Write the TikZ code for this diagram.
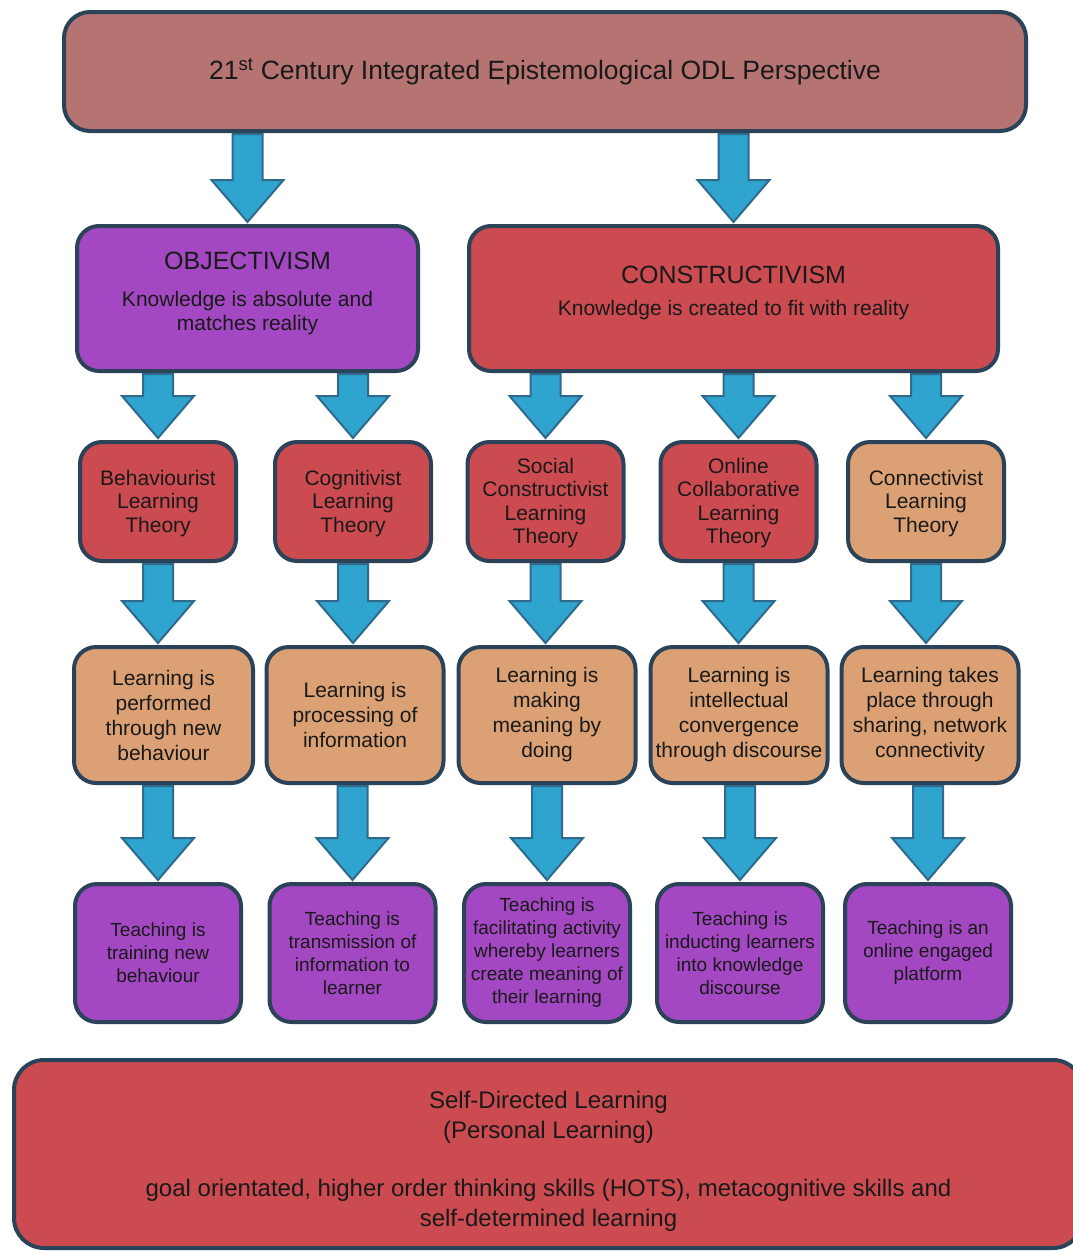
\documentclass[tikz,border=0pt]{standalone}
\usepackage{fontspec}
\setmainfont{Liberation Sans}
\usetikzlibrary{calc}

\definecolor{boxline}{HTML}{2B4358}
\definecolor{titlefill}{HTML}{B57471}
\definecolor{purplefill}{HTML}{A348C2}
\definecolor{redfill}{HTML}{CB4B51}
\definecolor{tanfill}{HTML}{DBA174}
\definecolor{arrowfill}{HTML}{2FA4CE}
\definecolor{arrowline}{HTML}{2F6A8C}

\tikzset{
  box/.style={draw=boxline, line width=4pt, rounded corners=22pt, align=center, text=black!90, inner sep=2pt},
  topbox/.style={box, fill=titlefill, rounded corners=26pt, minimum width=962, minimum height=119, font=\fontsize{26.5}{30}\selectfont},
  objbox/.style={box, fill=purplefill, minimum width=341, minimum height=145, font=\fontsize{21}{24}\selectfont, text depth=15pt},
  conbox/.style={box, fill=redfill, minimum width=529, minimum height=145, font=\fontsize{21}{24}\selectfont, text depth=15pt},
  theory/.style={box, minimum width=156, minimum height=119, font=\fontsize{21}{23.5}\selectfont, text depth=1pt},
  learnbox/.style={box, fill=tanfill, minimum width=177, minimum height=136, font=\fontsize{21}{25}\selectfont},
  teachbox/.style={box, fill=purplefill, minimum width=166, minimum height=138, font=\fontsize{19}{23}\selectfont},
  sdlbox/.style={box, fill=redfill, rounded corners=30pt, minimum width=1069, minimum height=188, font=\fontsize{24}{29.5}\selectfont},
  flow/.style={fill=arrowfill, draw=arrowline, line width=2pt, line join=miter}
}

% fat down arrow from box #1 to box #2, placed on the x of node #3
\newcommand{\blockarrow}[3]{%
  \draw[flow] let \p1=(#1.south), \p2=(#2.north), \p3=(#3.center) in
    (\x3-15pt,\y1-1pt) -- (\x3+15pt,\y1-1pt) -- (\x3+15pt,\y2+44pt) -- (\x3+36pt,\y2+44pt)
    -- (\x3,\y2+2pt) -- (\x3-36pt,\y2+44pt) -- (\x3-15pt,\y2+44pt) -- cycle;}

\begin{document}
\begin{tikzpicture}[x=1pt,y=-1pt]
    \useasboundingbox (0,0) rectangle (1073,1254);
    % top
    \node[topbox] (title) at (545,71.5) {21\textsuperscript{st} Century Integrated Epistemological ODL Perspective};
    \node[objbox] (obj) at (247.5,298.5) {{\fontsize{25}{30}\selectfont OBJECTIVISM}\\[13pt]Knowledge is absolute and\\matches reality};
    \node[conbox] (con) at (733.5,298.5) {{\fontsize{25}{30}\selectfont CONSTRUCTIVISM}\\[8pt]Knowledge is created to fit with reality};
    % theories
    \node[theory, fill=redfill] (beh) at (158,501.5) {Behaviourist\\Learning\\Theory};
    \node[theory, fill=redfill] (cog) at (353,501.5) {Cognitivist\\Learning\\Theory};
    \node[theory, fill=redfill] (soc) at (545.5,501.5) {Social\\Constructivist\\Learning\\Theory};
    \node[theory, fill=redfill] (onl) at (738.5,501.5) {Online\\Collaborative\\Learning\\Theory};
    \node[theory, fill=tanfill] (conn) at (926,501.5) {Connectivist\\Learning\\Theory};
    % learning
    \node[learnbox, minimum width=179] (lbeh) at (163.5,715) {Learning is\\performed\\through new\\behaviour};
    \node[learnbox] (lcog) at (355,715) {Learning is\\processing of\\information};
    \node[learnbox] (lsoc) at (547,715) {Learning is\\making\\meaning by\\doing};
    \node[learnbox] (lonl) at (739,715) {Learning is\\intellectual\\convergence\\through discourse};
    \node[learnbox] (lconn) at (930,715) {Learning takes\\place through\\sharing, network\\connectivity};
    % teaching
    \node[teachbox] (tbeh) at (158,953) {Teaching is\\training new\\behaviour};
    \node[teachbox] (tcog) at (352.5,953) {Teaching is\\transmission of\\information to\\learner};
    \node[teachbox] (tsoc) at (547,953) {Teaching is\\facilitating activity\\whereby learners\\create meaning of\\their learning};
    \node[teachbox] (tonl) at (740,953) {Teaching is\\inducting learners\\into knowledge\\discourse};
    \node[teachbox] (tconn) at (928,953) {Teaching is an\\online engaged\\platform};
    % bottom
    \node[sdlbox] (sdl) at (548.5,1154) {\rule{0pt}{32pt}Self-Directed Learning\\(Personal Learning)\\[29pt]goal orientated, higher order thinking skills (HOTS), metacognitive skills and\\self-determined learning};
    % arrows
    \foreach \a/\b/\c in {title/obj/obj, title/con/con, obj/beh/beh, obj/cog/cog, con/soc/soc, con/onl/onl, con/conn/conn}
        \blockarrow{\a}{\b}{\c};
    \foreach \a/\b in {beh/lbeh, cog/lcog, soc/lsoc, onl/lonl, conn/lconn}
        \blockarrow{\a}{\b}{\a};
    \foreach \a/\b in {lbeh/tbeh, lcog/tcog, lsoc/tsoc, lonl/tonl, lconn/tconn}
        \blockarrow{\a}{\b}{\b};
\end{tikzpicture}
\end{document}
